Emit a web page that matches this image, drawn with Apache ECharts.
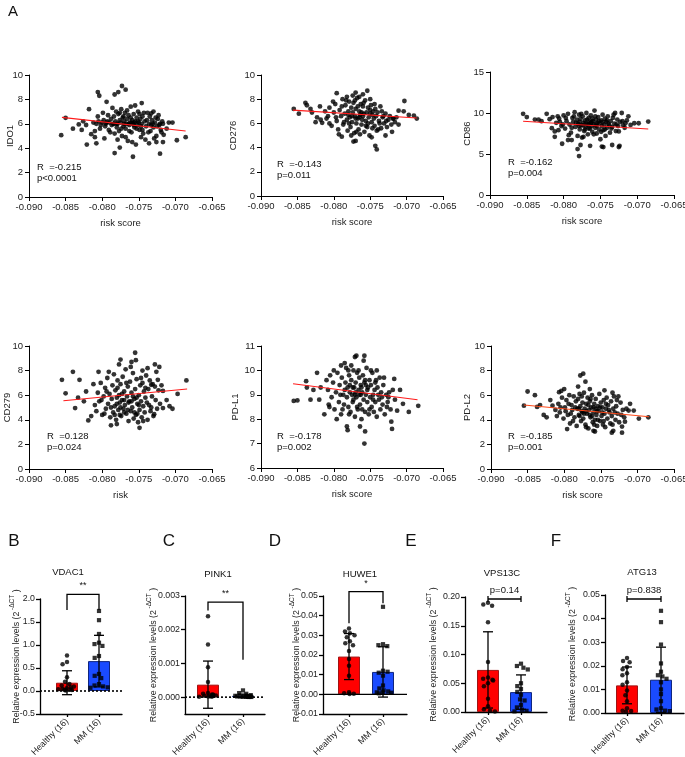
<!DOCTYPE html>
<html><head><meta charset="utf-8">
<script src="https://cdn.jsdelivr.net/npm/echarts@6/dist/echarts.min.js"></script>
<style>html,body{margin:0;padding:0;background:#fff}#c{width:685px;height:757px}</style>
</head><body><div id="c"></div>
<script>
// ---------- Panel A: scatter data (risk score vs expression) ----------
const riskTicks = {min: -0.090, max: -0.065, step: 0.005};

const ido1Pts = [[-.0856,5.07],[-.0850,6.49],[-.0840,5.6],[-.0832,5.95],[-.0821,4.3],[-.0818,7.2],[-.0815,5.15],[-.0810,4.9],[-.0806,8.6],[-.0804,8.3],[-.0808,4.4],[-.0794,7.8],[-.0783,8.4],[-.0778,8.6],[-.0773,9.1],[-.0768,8.8],[-.0783,3.6],[-.0776,4.05],[-.0758,3.3],[-.0746,7.7],[-.0709,6.1],[-.0704,6.1],[-.0698,4.65],[-.0686,4.9],[-.0721,3.55],[-.0712,5.6],[-.0717,4.5],[-.0726,4.5],[-.0733,6.85],[-.0730,7.0],[-.0736,4.4],[-.0826,6.2],[-.0822,5.9],[-.0828,5.5],
[-.0812,6.1],[-.0808,6.0],[-.0805,6.2],[-.0802,5.9],[-.0800,6.1],[-.0798,6.3],[-.0796,5.8],[-.0795,6.0],[-.0793,6.2],[-.0791,5.5],[-.0790,6.1],[-.0788,6.4],[-.0787,5.9],[-.0785,6.0],[-.0784,6.6],[-.0783,5.2],[-.0782,6.2],[-.0781,7.0],[-.0780,5.7],[-.0779,6.0],[-.0778,6.8],[-.0777,5.4],[-.0776,6.3],[-.0775,6.1],[-.0774,7.2],[-.0773,5.0],[-.0772,6.5],[-.0771,5.8],[-.0770,6.2],[-.0769,6.9],[-.0768,5.6],[-.0767,6.0],[-.0766,6.4],[-.0765,4.6],[-.0764,6.7],[-.0763,5.9],[-.0762,6.1],[-.0761,7.4],[-.0760,5.3],[-.0759,6.3],[-.0758,6.0],[-.0757,6.8],[-.0756,5.7],[-.0755,6.2],[-.0754,4.3],[-.0753,6.5],[-.0752,5.9],[-.0751,7.0],[-.0750,6.1],[-.0749,5.5],[-.0748,6.4],[-.0747,4.9],[-.0746,6.0],[-.0745,6.6],[-.0744,5.2],[-.0742,6.2],[-.0740,5.8],[-.0738,6.9],[-.0736,6.0],[-.0734,5.4],[-.0732,6.3],[-.0730,5.7],[-.0728,6.1],[-.0726,5.0],[-.0724,6.4],[-.0722,5.9],[-.0720,5.5],[-.0718,6.2],[-.0716,5.1],
[-.0810,5.4],[-.0806,6.6],[-.0803,5.6],[-.0799,6.9],[-.0797,4.8],[-.0792,6.7],[-.0789,5.3],[-.0786,7.3],[-.0779,4.7],[-.0776,6.9],[-.0774,5.6],[-.0771,6.6],[-.0768,4.9],[-.0766,7.1],[-.0763,5.4],[-.0761,6.5],[-.0759,4.5],[-.0757,5.9],[-.0755,7.5],[-.0753,5.6],[-.0751,6.2],[-.0749,6.8],[-.0747,5.8],[-.0745,5.5],[-.0743,6.9],[-.0741,4.7],[-.0739,6.3],[-.0737,5.3],[-.0735,6.6],[-.0733,5.9],[-.0731,6.0],[-.0729,4.8],[-.0727,6.5],[-.0725,5.8],[-.0723,6.7],[-.0721,6.0],[-.0719,5.3],[-.0717,6.0],[-.0780,6.0],[-.0770,6.0],[-.0760,6.1],[-.0794,6.1],[-.0784,6.0],[-.0764,6.0],[-.0756,6.1]];

const cd276Pts = [[-.0855,7.2],[-.0848,6.8],[-.0839,7.7],[-.0837,7.5],[-.0832,7.2],[-.0830,6.9],[-.0823,6.5],[-.0818,6.3],[-.0816,6.05],[-.0819,7.4],[-.0796,8.5],[-.0789,4.9],[-.0773,4.5],[-.0770,4.55],[-.0770,8.55],[-.0754,8.7],[-.0743,4.15],[-.0741,3.85],[-.0748,4.85],[-.0729,5.0],[-.0720,5.3],[-.0703,7.85],[-.0704,7.0],[-.0711,7.05],[-.0697,6.7],[-.0690,6.65],[-.0686,6.4],[-.0711,5.9],[-.0718,6.4],[-.0812,7.0],[-.0808,6.6],[-.0825,6.1],[-.0760,8.4],[-.0765,8.2],[-.0782,8.2],[-.0750,8.0],
[-.0810,6.4],[-.0806,7.3],[-.0803,5.8],[-.0800,6.9],[-.0798,7.6],[-.0796,6.2],[-.0794,5.5],[-.0792,7.1],[-.0790,6.6],[-.0788,8.0],[-.0787,5.9],[-.0785,6.8],[-.0784,7.5],[-.0782,6.3],[-.0781,5.4],[-.0780,7.0],[-.0779,7.8],[-.0778,6.5],[-.0777,5.7],[-.0776,7.3],[-.0775,6.1],[-.0774,6.9],[-.0773,7.7],[-.0772,5.2],[-.0771,6.6],[-.0770,7.2],[-.0769,6.0],[-.0768,8.1],[-.0767,6.4],[-.0766,5.5],[-.0765,7.0],[-.0764,6.7],[-.0763,7.6],[-.0762,5.9],[-.0761,6.3],[-.0760,7.4],[-.0759,6.8],[-.0758,5.3],[-.0757,7.9],[-.0756,6.2],[-.0755,6.9],[-.0754,5.7],[-.0753,7.3],[-.0752,6.5],[-.0751,5.0],[-.0750,6.8],[-.0749,7.5],[-.0748,6.1],[-.0747,5.6],[-.0746,7.0],[-.0745,6.4],[-.0744,5.8],[-.0743,7.2],[-.0742,6.6],[-.0741,5.4],[-.0740,6.9],[-.0738,6.2],[-.0736,7.4],[-.0735,5.6],[-.0733,6.5],[-.0731,6.0],[-.0729,6.8],[-.0727,5.7],[-.0725,6.3],[-.0723,6.6],[-.0721,5.9],[-.0719,6.4],[-.0716,6.1],[-.0714,6.5],
[-.0806,6.0],[-.0801,7.8],[-.0797,6.5],[-.0793,5.1],[-.0789,7.4],[-.0786,6.1],[-.0783,7.9],[-.0779,6.0],[-.0776,5.0],[-.0774,8.3],[-.0771,7.9],[-.0769,5.3],[-.0767,7.4],[-.0764,5.1],[-.0762,6.9],[-.0759,7.7],[-.0756,5.8],[-.0753,6.0],[-.0750,7.1],[-.0747,6.7],[-.0744,7.6],[-.0739,5.5],[-.0737,6.0],[-.0734,7.0],[-.0732,6.6],[-.0728,6.2],[-.0780,6.7],[-.0770,6.4],[-.0760,6.6],[-.0775,6.6],[-.0765,6.5]];

const cd86Pts = [[-.0855,9.9],[-.0850,9.5],[-.0839,9.2],[-.0834,9.2],[-.0830,9.0],[-.0823,9.9],[-.0819,9.25],[-.0816,8.15],[-.0812,7.75],[-.0812,7.1],[-.0802,6.25],[-.0794,6.7],[-.0789,6.7],[-.0781,5.6],[-.0779,4.75],[-.0777,6.1],[-.0764,6.0],[-.0748,5.9],[-.0746,5.85],[-.0734,6.1],[-.0725,5.85],[-.0724,6.0],[-.0730,10.0],[-.0721,10.0],[-.0716,8.75],[-.0709,8.55],[-.0704,8.75],[-.0698,8.75],[-.0685,8.95],[-.0712,9.6],[-.0725,7.75],[-.0808,9.6],[-.0805,8.9],[-.0815,9.5],[-.0720,9.0],[-.0717,8.2],
[-.0810,8.8],[-.0806,9.3],[-.0803,8.4],[-.0800,9.7],[-.0798,8.1],[-.0796,9.0],[-.0794,9.9],[-.0792,8.6],[-.0790,7.6],[-.0788,9.4],[-.0787,8.9],[-.0785,10.1],[-.0784,8.3],[-.0782,9.2],[-.0781,7.2],[-.0780,8.7],[-.0779,9.8],[-.0778,8.0],[-.0777,9.3],[-.0776,8.5],[-.0775,7.0],[-.0774,9.6],[-.0773,8.8],[-.0772,7.8],[-.0771,9.1],[-.0770,8.3],[-.0769,10.0],[-.0768,8.6],[-.0767,7.4],[-.0766,9.4],[-.0765,8.9],[-.0764,8.1],[-.0763,9.7],[-.0762,8.4],[-.0761,7.7],[-.0760,9.0],[-.0759,8.6],[-.0758,10.3],[-.0757,8.2],[-.0756,9.2],[-.0755,7.5],[-.0754,8.8],[-.0753,9.5],[-.0752,8.0],[-.0751,8.7],[-.0750,6.8],[-.0749,9.1],[-.0748,8.4],[-.0747,9.8],[-.0746,7.9],[-.0745,8.6],[-.0744,9.3],[-.0743,7.2],[-.0742,8.9],[-.0741,8.2],[-.0740,9.6],[-.0738,8.5],[-.0737,7.6],[-.0736,9.0],[-.0734,8.3],[-.0733,9.4],[-.0731,8.7],[-.0729,7.8],[-.0727,9.2],[-.0726,8.4],[-.0723,8.9],[-.0719,8.5],[-.0714,9.1],
[-.0807,7.9],[-.0801,8.6],[-.0797,9.4],[-.0793,7.3],[-.0789,8.2],[-.0786,9.6],[-.0783,8.8],[-.0779,8.4],[-.0776,9.9],[-.0773,7.1],[-.0771,8.0],[-.0768,9.2],[-.0766,8.1],[-.0763,8.8],[-.0761,9.3],[-.0759,7.4],[-.0757,9.6],[-.0755,8.4],[-.0752,9.0],[-.0749,7.7],[-.0747,8.9],[-.0744,8.0],[-.0741,9.1],[-.0739,8.7],[-.0735,8.1],[-.0732,9.8],[-.0728,8.6],[-.0778,8.9],[-.0770,8.7],[-.0762,8.9],[-.0756,8.6],[-.0774,8.5],[-.0766,8.6]];

const cd279Pts = [[-.0855,7.25],[-.0850,6.15],[-.0840,7.9],[-.0837,4.95],[-.0831,7.25],[-.0833,5.8],[-.0819,3.95],[-.0805,7.9],[-.0788,3.55],[-.0780,3.65],[-.0777,8.5],[-.0775,8.9],[-.0755,9.45],[-.0754,8.85],[-.0749,3.35],[-.0728,8.5],[-.0722,8.3],[-.0724,7.25],[-.0717,4.95],[-.0712,5.6],[-.0708,5.1],[-.0704,4.9],[-.0697,6.1],[-.0685,7.2],[-.0717,6.35],[-.0729,4.45],[-.0733,6.85],[-.0825,5.5],[-.0822,6.3],[-.0815,4.3],[-.0812,6.9],[-.0810,5.2],[-.0760,8.7],[-.0745,8.0],[-.0738,8.2],
[-.0808,4.7],[-.0806,6.2],[-.0804,5.5],[-.0802,7.0],[-.0800,4.4],[-.0798,5.9],[-.0796,6.6],[-.0795,4.9],[-.0793,7.4],[-.0792,5.3],[-.0790,6.1],[-.0789,4.2],[-.0787,5.7],[-.0786,6.8],[-.0785,4.6],[-.0784,7.7],[-.0783,5.1],[-.0782,6.4],[-.0781,4.0],[-.0780,5.8],[-.0779,7.2],[-.0778,4.8],[-.0777,6.0],[-.0776,5.4],[-.0775,6.9],[-.0774,4.3],[-.0773,5.6],[-.0772,7.5],[-.0771,4.9],[-.0770,6.3],[-.0769,5.2],[-.0768,8.1],[-.0767,4.5],[-.0766,5.9],[-.0765,6.7],[-.0764,3.9],[-.0763,5.5],[-.0762,7.1],[-.0761,4.7],[-.0760,6.2],[-.0759,5.0],[-.0758,7.8],[-.0757,4.1],[-.0756,5.7],[-.0755,6.5],[-.0754,4.4],[-.0753,7.3],[-.0752,5.3],[-.0751,3.8],[-.0750,6.0],[-.0749,4.8],[-.0748,6.8],[-.0747,5.5],[-.0746,4.2],[-.0745,7.0],[-.0744,5.1],[-.0743,6.3],[-.0742,4.6],[-.0741,5.8],[-.0740,7.6],[-.0738,4.0],[-.0737,6.5],[-.0736,5.2],[-.0735,7.2],[-.0734,4.7],[-.0732,5.9],[-.0731,6.9],[-.0730,4.3],[-.0727,5.6],[-.0726,7.9],[-.0725,4.9],[-.0723,6.4],[-.0721,5.3],[-.0719,6.8],
[-.0801,5.6],[-.0797,4.5],[-.0794,6.3],[-.0791,7.9],[-.0788,5.0],[-.0783,4.4],[-.0779,6.6],[-.0776,4.4],[-.0773,6.1],[-.0770,4.6],[-.0767,7.0],[-.0764,5.4],[-.0761,8.3],[-.0758,5.9],[-.0756,4.6],[-.0753,5.8],[-.0750,5.2],[-.0747,7.4],[-.0744,3.9],[-.0741,6.6],[-.0739,5.4],[-.0733,5.0],[-.0728,6.7],[-.0780,5.3],[-.0770,5.6],[-.0760,5.5],[-.0775,5.0],[-.0765,4.8],[-.0752,4.5]];

const pdl1Pts = [[-.0855,8.75],[-.0850,8.77],[-.0838,9.56],[-.0837,9.3],[-.0832,8.8],[-.0823,9.9],[-.0818,9.3],[-.0820,8.8],[-.0813,8.2],[-.0782,7.7],[-.0781,7.55],[-.0771,10.55],[-.0769,10.6],[-.0764,7.7],[-.0758,10.6],[-.0759,10.4],[-.0757,7.5],[-.0758,7.0],[-.0741,10.0],[-.0721,7.9],[-.0720,7.6],[-.0717,9.65],[-.0709,9.2],[-.0705,8.63],[-.0697,8.3],[-.0684,8.55],[-.0713,8.35],[-.0725,8.9],[-.0828,9.2],[-.0810,9.6],[-.0806,8.5],[-.0790,10.2],[-.0785,10.3],[-.0780,10.0],
[-.0808,9.2],[-.0805,9.8],[-.0803,8.9],[-.0801,9.5],[-.0799,8.4],[-.0797,9.1],[-.0795,9.9],[-.0793,8.7],[-.0792,9.4],[-.0790,8.2],[-.0789,9.7],[-.0787,9.0],[-.0786,8.6],[-.0784,9.5],[-.0783,10.1],[-.0782,8.9],[-.0781,9.3],[-.0780,8.5],[-.0779,9.8],[-.0778,9.1],[-.0777,8.3],[-.0776,9.6],[-.0775,9.0],[-.0774,8.7],[-.0773,10.0],[-.0772,9.3],[-.0771,8.1],[-.0770,9.5],[-.0769,8.9],[-.0768,9.9],[-.0767,8.4],[-.0766,9.2],[-.0765,9.7],[-.0764,8.6],[-.0763,9.4],[-.0762,8.0],[-.0761,9.1],[-.0760,9.8],[-.0759,8.8],[-.0758,9.5],[-.0757,8.3],[-.0756,9.0],[-.0755,10.1],[-.0754,8.7],[-.0753,9.3],[-.0752,8.2],[-.0751,9.6],[-.0750,8.9],[-.0749,9.4],[-.0748,8.5],[-.0747,9.9],[-.0746,9.0],[-.0745,8.3],[-.0744,9.2],[-.0743,8.7],[-.0742,9.6],[-.0741,8.1],[-.0740,9.3],[-.0738,8.8],[-.0737,9.7],[-.0736,8.4],[-.0735,9.1],[-.0733,8.6],[-.0732,9.4],[-.0730,8.2],[-.0728,9.0],[-.0727,8.5],[-.0724,9.1],[-.0722,8.4],[-.0719,9.2],[-.0716,8.8],
[-.0807,8.6],[-.0800,10.0],[-.0796,8.0],[-.0791,9.0],[-.0788,8.4],[-.0785,9.2],[-.0779,8.2],[-.0776,10.2],[-.0774,9.3],[-.0771,9.0],[-.0768,8.5],[-.0766,10.0],[-.0763,9.0],[-.0761,8.4],[-.0757,9.6],[-.0754,9.2],[-.0751,8.4],[-.0749,10.0],[-.0746,8.8],[-.0743,9.5],[-.0739,9.0],[-.0734,8.9],[-.0731,9.7],[-.0726,8.7],[-.0778,9.4],[-.0770,9.1],[-.0762,9.3],[-.0756,9.4],[-.0773,8.8],[-.0765,9.0]];

const pdl2Pts = [[-.0855,5.15],[-.0850,6.3],[-.0840,6.0],[-.0837,5.05],[-.0833,5.2],[-.0824,4.2],[-.0819,5.6],[-.0816,5.15],[-.0807,6.25],[-.0804,6.35],[-.0800,6.5],[-.0796,3.25],[-.0778,7.6],[-.0774,7.75],[-.0771,7.1],[-.0781,6.7],[-.0760,3.1],[-.0758,3.05],[-.0735,2.95],[-.0733,3.1],[-.0721,2.95],[-.0721,3.45],[-.0734,6.2],[-.0726,5.9],[-.0715,4.9],[-.0712,4.75],[-.0710,5.3],[-.0705,4.75],[-.0698,4.1],[-.0685,4.2],[-.0717,3.85],[-.0828,4.4],[-.0812,4.8],[-.0810,4.3],[-.0765,6.5],[-.0745,6.4],
[-.0808,5.3],[-.0806,4.6],[-.0803,5.8],[-.0801,4.1],[-.0799,5.0],[-.0797,5.6],[-.0795,4.4],[-.0793,6.0],[-.0792,3.7],[-.0790,5.2],[-.0789,4.8],[-.0787,5.9],[-.0786,4.2],[-.0784,5.5],[-.0783,3.5],[-.0782,4.9],[-.0781,5.7],[-.0780,4.4],[-.0779,6.1],[-.0778,5.1],[-.0777,3.9],[-.0776,4.7],[-.0775,5.4],[-.0774,4.1],[-.0773,6.2],[-.0772,4.9],[-.0771,3.6],[-.0770,5.3],[-.0769,4.5],[-.0768,5.8],[-.0767,3.3],[-.0766,4.8],[-.0765,5.5],[-.0764,4.2],[-.0763,5.0],[-.0762,6.0],[-.0761,3.8],[-.0760,4.6],[-.0759,5.3],[-.0758,4.0],[-.0757,5.7],[-.0756,4.4],[-.0755,3.5],[-.0754,5.1],[-.0753,4.7],[-.0752,6.1],[-.0751,3.9],[-.0750,5.4],[-.0749,4.3],[-.0748,5.0],[-.0747,3.6],[-.0746,5.6],[-.0745,4.5],[-.0744,3.4],[-.0743,4.9],[-.0742,5.8],[-.0741,4.1],[-.0740,5.2],[-.0738,4.6],[-.0737,3.7],[-.0736,5.5],[-.0735,4.3],[-.0733,4.9],[-.0732,5.9],[-.0730,4.0],[-.0729,5.1],[-.0727,4.5],[-.0725,3.8],[-.0723,5.4],[-.0722,4.4],[-.0720,4.8],[-.0718,4.2],
[-.0805,5.0],[-.0798,4.7],[-.0794,5.3],[-.0791,4.5],[-.0788,3.9],[-.0785,5.0],[-.0779,4.3],[-.0776,5.9],[-.0773,4.5],[-.0770,3.4],[-.0767,5.2],[-.0764,5.7],[-.0762,4.3],[-.0759,3.6],[-.0757,4.9],[-.0754,4.0],[-.0751,5.0],[-.0748,4.6],[-.0746,3.9],[-.0743,5.3],[-.0739,4.8],[-.0734,3.6],[-.0731,4.6],[-.0728,5.6],[-.0780,4.9],[-.0770,4.7],[-.0760,5.0],[-.0775,4.6],[-.0765,4.4],[-.0755,4.7]];

// regression lines (end points)
const ido1Fit  = [[-0.0855,6.53],[-0.0686,5.41]];
const cd276Fit = [[-0.0856,7.10],[-0.0686,6.45]];
const cd86Fit  = [[-0.0855,9.00],[-0.0685,8.05]];
const cd279Fit = [[-0.0853,5.55],[-0.0684,6.50]];
const pdl1Fit  = [[-0.0856,9.45],[-0.0685,8.80]];
const pdl2Fit  = [[-0.0855,5.20],[-0.0684,4.25]];

const scatterGenes = ['IDO1','CD276','CD86','CD279','PD-L1','PD-L2'];
const scatterXNames = ['risk score','risk score','risk score','risk','risk score','risk score'];
const scatterR = ['R  =-0.215','R  =-0.143','R  =-0.162','R  =0.128','R  =-0.178','R  =-0.185'];
const scatterP = ['p<0.0001','p=0.011','p=0.004','p=0.024','p=0.002','p=0.001'];
const scatterYMin = [0,0,0,0,6,0];
const scatterYMax = [10,10,15,10,11,10];
const scatterYStep = [2,2,5,2,1,2];
const scatterPts = [ido1Pts, cd276Pts, cd86Pts, cd279Pts, pdl1Pts, pdl2Pts];
const scatterFits = [ido1Fit, cd276Fit, cd86Fit, cd279Fit, pdl1Fit, pdl2Fit];
const fitColors = ['#ff1a1a','#ff1a1a','#ff1a1a','#ff1a1a','#ff1a1a','#ff4a1a'];

// ---------- Panels B-F: qPCR bar charts ----------
const groups = ['Healthy (16)', 'MM (16)'];
const barGenes = ['VDAC1','PINK1','HUWE1','VPS13C','ATG13'];

const vdac1Healthy = [0.77,0.63,0.58,0.30,0.20,0.15,0.12,0.10,0.08,0.06,0.05,0.04,0.03,0.02,0.02,0.01];
const vdac1MM      = [1.74,1.54,1.24,1.05,1.02,0.98,0.76,0.72,0.37,0.33,0.28,0.15,0.12,0.10,0.08,0.07];
const vdac1Mean = [0.18, 0.65];
const vdac1SD   = [0.26, 0.56];
const vdac1Bracket = [1.76, 2.10, 1.76];

const pink1Healthy = [0.0024,0.00156,0.00089,0.00045,0.00012,0.0001,0.00008,0.00007,0.00006,0.00005,0.00004,0.00003,0.00003,0.00002,0.00002,0.00001];
const pink1MM      = [0.0002,0.00012,0.0001,0.00006,0.00004,0.00003,0.00003,0.00002,0.00002,0.00002,0.00001,0.00001,0.00001,0.00001,0.000005,0.000005];
const pink1Mean = [0.00037, 0.00004];
const pink1SD   = [0.0007, 0.00005];
const pink1Bracket = [0.00257, 0.00282, 0.00111];

const huwe1Healthy = [0.0335,0.032,0.031,0.030,0.029,0.027,0.026,0.025,0.022,0.018,0.0145,0.0095,0.001,0.0005,0.0003,0.0002];
const huwe1MM      = [0.0445,0.0255,0.025,0.0245,0.012,0.011,0.0115,0.0095,0.0045,0.003,0.002,0.0015,0.001,0.001,0.0008,0.0005];
const huwe1Mean = [0.0192, 0.0114];
const huwe1SD   = [0.0117, 0.0128];
const huwe1Bracket = [0.0361, 0.0522, 0.0463];

const vps13cHealthy = [0.19,0.187,0.185,0.156,0.087,0.06,0.058,0.056,0.055,0.05,0.045,0.023,0.01,0.005,0.002,0.001];
const vps13cMM      = [0.084,0.08,0.077,0.074,0.05,0.045,0.04,0.035,0.03,0.022,0.02,0.012,0.008,0.004,0.002,0.001];
const vps13cMean = [0.0732, 0.0346];
const vps13cSD   = [0.0663, 0.0299];
const vps13cBracket = [0.1965, 0.1965, 0.1965];

const atg13Healthy = [0.0233,0.022,0.0215,0.0195,0.0185,0.0168,0.016,0.013,0.012,0.0095,0.0075,0.005,0.002,0.001,0.0008,0.0005];
const atg13MM      = [0.0433,0.0385,0.029,0.021,0.0175,0.016,0.0155,0.0145,0.013,0.01,0.008,0.005,0.002,0.0015,0.001,0.0008];
const atg13Mean = [0.0117, 0.0141];
const atg13SD   = [0.0078, 0.0138];
const atg13Bracket = [0.0483, 0.0483, 0.0483];

const barSig = ['**','**','*','p=0.14','p=0.838'];
const barYMin = [-0.5, -0.0005, -0.01, 0, 0];
const barYMax = [2.0, 0.003, 0.05, 0.20, 0.05];
const barYStep = [0.5, 0.0005, 0.01, 0.05, 0.01];
const barYLabels = [null, [0, 0.001, 0.002, 0.003], null, null, null];
const barDecimals = [1, 3, 2, 2, 2];
const barHealthy = [vdac1Healthy, pink1Healthy, huwe1Healthy, vps13cHealthy, atg13Healthy];
const barMM = [vdac1MM, pink1MM, huwe1MM, vps13cMM, atg13MM];
const barMeans = [vdac1Mean, pink1Mean, huwe1Mean, vps13cMean, atg13Mean];
const barSDs = [vdac1SD, pink1SD, huwe1SD, vps13cSD, atg13SD];
const barBrackets = [vdac1Bracket, pink1Bracket, huwe1Bracket, vps13cBracket, atg13Bracket];

// ---------- layout (pixels) ----------
const FONT = '"Liberation Sans", Arial, sans-serif';
const scatterLayout = [
  {left:29,  top:75,  width:183, height:122, gap:14, tx:37,  ty:167},
  {left:261, top:75,  width:182, height:121, gap:23, tx:277, ty:164},
  {left:490, top:72,  width:184, height:123, gap:18, tx:508, ty:162},
  {left:29,  top:346, width:183, height:123, gap:17, tx:47,  ty:436},
  {left:261, top:346, width:182, height:122, gap:21, tx:277, ty:436},
  {left:491, top:346, width:183, height:123, gap:19, tx:508, ty:436}
];
const barLayout = [
  {axisX:40,  right:122, top:599, height:115, innerLeft:51,    innerWidth:64, gap:19, tx:68,  ty:572, letter:'B', lx:14,  zero:'dotted', bracket:'drop'},
  {axisX:185, right:265, top:596, height:118, innerLeft:190.5, innerWidth:70, gap:27, tx:218, ty:574, letter:'C', lx:169, zero:'dotted', bracket:'drop'},
  {axisX:323, right:407, top:596, height:118, innerLeft:332,   innerWidth:68, gap:22, tx:360, ty:574, letter:'D', lx:275, zero:'solid',  bracket:'drop'},
  {axisX:465, right:547, top:597, height:115, innerLeft:471.5, innerWidth:66, gap:27, tx:502, ty:573, letter:'E', lx:411, zero:null,     bracket:'cap'},
  {axisX:605, right:684, top:595, height:118, innerLeft:610,   innerWidth:68, gap:28, tx:642, ty:572, letter:'F', lx:556, zero:null,     bracket:'cap'}
];

const grids = [], xAxes = [], yAxes = [], series = [], graphics = [];
const tickText = {color:'#222', fontSize:9.5, fontFamily:FONT};
const barTickText = {color:'#222', fontSize:8.8, fontFamily:FONT};
const blackLine = {color:'#000', width:1};

function txt(text, x, y, size, align) {
  graphics.push({type:'text', silent:true, style:{text:text, x:x, y:y, fontSize:size, fontFamily:FONT, fill:'#111', align:align||'left', verticalAlign:'middle'}});
}

txt('A', 8, 12, 15);

scatterGenes.forEach(function(gene, i){
  const L = scatterLayout[i];
  const gi = grids.length;
  grids.push({left:L.left, top:L.top, width:L.width, height:L.height, containLabel:false, outerBoundsMode:'none'});
  xAxes.push({gridIndex:gi, type:'value', min:riskTicks.min, max:riskTicks.max, interval:riskTicks.step,
    name:scatterXNames[i], nameLocation:'middle', nameGap:21, nameMoveOverlap:false, nameTextStyle:{color:'#222', fontSize:9.5, fontFamily:FONT},
    axisLine:{show:true, onZero:false, lineStyle:blackLine}, axisTick:{show:true, length:4, lineStyle:blackLine},
    axisLabel:Object.assign({margin:5, formatter:function(v){return v.toFixed(3);}}, tickText), splitLine:{show:false}});
  yAxes.push({gridIndex:gi, type:'value', min:scatterYMin[i], max:scatterYMax[i], interval:scatterYStep[i],
    name:gene, nameLocation:'middle', nameGap:L.gap, nameRotate:90, nameMoveOverlap:false, nameTextStyle:{color:'#222', fontSize:9.5, fontFamily:FONT},
    axisLine:{show:true, onZero:false, lineStyle:blackLine}, axisTick:{show:true, length:4, lineStyle:blackLine},
    axisLabel:Object.assign({margin:6}, tickText), splitLine:{show:false}});
  series.push({type:'scatter', xAxisIndex:gi, yAxisIndex:gi, data:scatterPts[i], symbolSize:4.8, itemStyle:{color:'#000'}, silent:true, z:2});
  series.push({type:'line', xAxisIndex:gi, yAxisIndex:gi, data:scatterFits[i], symbol:'none', lineStyle:{color:fitColors[i], width:1.1}, silent:true, z:3});
  txt(scatterR[i], L.tx, L.ty, 9.5);
  txt(scatterP[i], L.tx, L.ty + 11.5, 9.5);
});

const yName = '{n|Relative expression levels (2}{s| -ΔCT}{n| )}';
const yNameRich = {n:{fontSize:8.8, fontFamily:FONT, color:'#222', lineHeight:12, verticalAlign:'bottom'},
                   s:{fontSize:6.5, fontFamily:FONT, color:'#222', lineHeight:12, verticalAlign:'top'}};
const axisLine2 = {color:'#000', width:1.3};

function errRender(params, api) {
  const x = api.value(0), m = api.value(1), s = api.value(2);
  const t = api.coord([x, m + s]), b = api.coord([x, m - s]);
  const h = 5, st = {stroke:'#000', lineWidth:1.3};
  return {type:'group', children:[
    {type:'line', shape:{x1:t[0], y1:t[1], x2:b[0], y2:b[1]}, style:st},
    {type:'line', shape:{x1:t[0]-h, y1:t[1], x2:t[0]+h, y2:t[1]}, style:st},
    {type:'line', shape:{x1:b[0]-h, y1:b[1], x2:b[0]+h, y2:b[1]}, style:st}
  ]};
}
function bracketRender(kind, sig) {
  return function(params, api) {
    const lY = api.value(0), tY = api.value(1), rY = api.value(2);
    const a = api.coord([0, tY]), b = api.coord([1, tY]);
    const st = {stroke:'#000', lineWidth:1.3, fill:null};
    const kids = [];
    if (kind === 'drop') {
      const al = api.coord([0, lY]), br = api.coord([1, rY]);
      kids.push({type:'polyline', shape:{points:[al, a, b, br]}, style:st});
    } else {
      kids.push({type:'line', shape:{x1:a[0], y1:a[1], x2:b[0], y2:b[1]}, style:{stroke:'#000', lineWidth:1.6}});
      kids.push({type:'line', shape:{x1:a[0], y1:a[1]-3, x2:a[0], y2:a[1]+3}, style:st});
      kids.push({type:'line', shape:{x1:b[0], y1:b[1]-3, x2:b[0], y2:b[1]+3}, style:st});
    }
    kids.push({type:'text', style:{text:sig, x:(a[0]+b[0])/2, y:a[1]-4, align:'center', verticalAlign:'bottom',
      fontSize:(sig.charAt(0)==='*'?9:9.5), fontFamily:FONT, fill:'#111'}});
    return {type:'group', children:kids};
  };
}

barGenes.forEach(function(gene, i){
  const L = barLayout[i];
  // outer grid: axes frame
  const go = grids.length;
  grids.push({left:L.axisX, top:L.top, width:L.right - L.axisX, height:L.height, containLabel:false, outerBoundsMode:'none'});
  xAxes.push({gridIndex:go, type:'value', min:0, max:1, axisLine:{show:true, onZero:false, lineStyle:axisLine2},
    axisTick:{show:false}, axisLabel:{show:false}, splitLine:{show:false}});
  const yo = {gridIndex:go, type:'value', min:barYMin[i], max:barYMax[i], interval:barYStep[i],
    name:yName, nameLocation:'middle', nameGap:L.gap, nameRotate:90, nameMoveOverlap:false, nameTextStyle:{rich:yNameRich},
    axisLine:{show:true, onZero:false, lineStyle:axisLine2}, axisTick:{show:true, length:4, lineStyle:axisLine2},
    axisLabel:Object.assign({margin:5, formatter:(function(d){return function(v){return v.toFixed(d);};})(barDecimals[i])}, barTickText),
    splitLine:{show:false}};
  if (barYLabels[i]) {
    yo.axisLabel.customValues = barYLabels[i];
    yo.axisTick.customValues = barYLabels[i];
  }
  yAxes.push(yo);
  if (L.zero) {
    series.push({type:'line', xAxisIndex:go, yAxisIndex:go, data:[[0,0],[1,0]], symbol:'none', silent:true, z:8,
      lineStyle:{color:'#000', width:L.zero==='dotted'?1.6:1.2, type:L.zero==='dotted'?[2,2]:'solid'}});
  }
  // inner grid: data
  const gi = grids.length;
  grids.push({left:L.innerLeft, top:L.top, width:L.innerWidth, height:L.height, containLabel:false, outerBoundsMode:'none'});
  xAxes.push({gridIndex:gi, type:'category', data:groups, jitter:18, jitterOverlap:false, jitterMargin:0.5,
    axisLine:{show:false, onZero:false}, axisTick:{show:true, alignWithLabel:true, length:3, lineStyle:axisLine2},
    axisLabel:Object.assign({rotate:45, margin:6, interval:0}, barTickText), splitLine:{show:false}});
  yAxes.push({gridIndex:gi, type:'value', min:barYMin[i], max:barYMax[i], show:false, splitLine:{show:false}});
  const m = barMeans[i], s = barSDs[i];
  series.push({type:'bar', xAxisIndex:gi, yAxisIndex:gi, barWidth:22, silent:true, z:2,
    data:[{value:m[0], itemStyle:{color:'#ff0000', borderColor:'#a01414', borderWidth:1}},
          {value:m[1], itemStyle:{color:'#1a4bff', borderColor:'#10267f', borderWidth:1}}]});
  series.push({type:'custom', xAxisIndex:gi, yAxisIndex:gi, renderItem:errRender, silent:true, z:4,
    data:[[0, m[0], s[0]], [1, m[1], s[1]]]});
  series.push({type:'scatter', xAxisIndex:gi, yAxisIndex:gi, symbol:'circle', symbolSize:4.5, silent:true, z:6,
    itemStyle:{color:'#000'}, data:barHealthy[i].map(function(v){return [0, v];})});
  series.push({type:'scatter', xAxisIndex:gi, yAxisIndex:gi, symbol:'rect', symbolSize:4.2, silent:true, z:6,
    itemStyle:{color:'#000'}, data:barMM[i].map(function(v){return [1, v];})});
  series.push({type:'custom', xAxisIndex:gi, yAxisIndex:gi, renderItem:bracketRender(L.bracket, barSig[i]), silent:true, z:7, clip:false,
    data:[barBrackets[i]]});
  txt(gene, L.tx, L.ty, 9.5, 'center');
  txt(L.letter, L.lx, 541.5, 17, 'center');
});

const chart = echarts.init(document.getElementById('c'), null, {renderer:'canvas'});
chart.setOption({animation:false, backgroundColor:'#fff', grid:grids, xAxis:xAxes, yAxis:yAxes, series:series, graphic:graphics});
</script>
</body></html>
